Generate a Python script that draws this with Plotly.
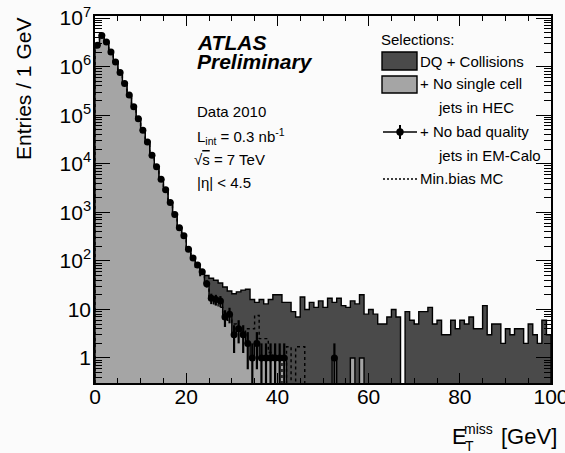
import numpy as np
import plotly.graph_objects as go

# ---------------- data (entries per 1 GeV bin, bins 0..100 GeV) ----------------
bin_edges = list(range(0, 101))

dq_collisions = [2.75e6, 4.4e6, 3.2e6, 2.0e6, 1.25e6, 7.6e5, 4.5e5, 2.6e5, 1.5e5, 8.5e4,
                 4.9e4, 2.8e4, 1.5e4, 8.7e3, 4.8e3, 2.9e3, 1.6e3, 900, 480, 330,
                 173, 115, 82, 62, 50, 44, 40, 35, 29, 24,
                 21, 23, 25, 26, 16, 14, 16, 13, 16, 20,
                 20, 14, 14, 9, 7, 18, 10, 14, 11, 15,
                 11, 17, 14, 17, 12, 11, 15, 13, 20, 8,
                 10, 8, 5, 5, 7, 10, 7, 0, 9, 6,
                 5, 9, 9, 11, 5, 6, 3, 3, 6, 4,
                 6, 5, 7, 4, 4, 12, 3, 5, 5, 2,
                 4, 3, 4, 4, 2, 5, 3, 2, 6, 3]

no_single_cell = [2.75e6, 4.4e6, 3.2e6, 2.0e6, 1.25e6, 7.6e5, 4.5e5, 2.6e5, 1.5e5, 8.5e4,
                  4.9e4, 2.8e4, 1.5e4, 8.7e3, 4.8e3, 2.9e3, 1.6e3, 900, 480, 330,
                  173, 115, 82, 60, 34, 17, 16, 15, 7, 8,
                  3, 4, 3, 2, 1, 2, 1, 1, 1, 1,
                  1, 1, 0, 0, 0, 0, 0, 0, 0, 0,
                  0, 0, 1, 0, 0, 0, 1, 0, 1, 0] + [0] * 40

no_bad_quality = [2.75e6, 4.4e6, 3.2e6, 2.0e6, 1.25e6, 7.6e5, 4.5e5, 2.6e5, 1.5e5, 8.5e4,
                  4.9e4, 2.8e4, 1.5e4, 8.7e3, 4.8e3, 2.9e3, 1.6e3, 900, 480, 330,
                  173, 115, 82, 60, 34, 17, 16, 15, 7, 8,
                  3, 4, 3, 2, 1, 2, 1, 1, 1, 1,
                  1, 1, 0, 0, 0, 0, 0, 0, 0, 0,
                  0, 0, 1, 0, 0, 0, 0, 0, 0, 0] + [0] * 40

minbias_mc = [2.6e6, 4.3e6, 3.3e6, 2.0e6, 1.25e6, 7.5e5, 4.5e5, 2.6e5, 1.5e5, 8.5e4,
              4.8e4, 2.7e4, 1.5e4, 8.5e3, 4.7e3, 2.8e3, 1.6e3, 880, 490, 320,
              170, 110, 75, 50, 30, 18, 13, 11, 8, 6,
              5, 4, 3, 4, 4, 7.5, 2.5, 2.5, 1.3, 1.0,
              1.0, 0, 1.7, 0, 1.7, 1.7, 0, 0, 0, 0] + [0] * 50

y_tickvals = [1, 10, 1e2, 1e3, 1e4, 1e5, 1e6, 1e7]
y_ticktext = ["1", "10", "10<sup>2</sup>", "10<sup>3</sup>", "10<sup>4</sup>",
              "10<sup>5</sup>", "10<sup>6</sup>", "10<sup>7</sup>"]
x_tickvals = [0, 20, 40, 60, 80, 100]

# ---------------- layout geometry ----------------
W, H = 565, 453
ML, MR, MT, MB = 95, 14, 16, 70
PW, PH = W - ML - MR, H - MT - MB
FLOOR = 1e-2
FONT = "Liberation Sans, Arial, Helvetica, sans-serif"


def px2x(px):
    return (px - ML) / PW


def py2y(py):
    return (H - MB - py) / PH


def step_outline(counts):
    xs, ys = [bin_edges[0]], [FLOOR]
    for i, c in enumerate(counts):
        v = c if c > 0 else FLOOR
        xs += [bin_edges[i], bin_edges[i + 1]]
        ys += [v, v]
    xs.append(bin_edges[-1])
    ys.append(FLOOR)
    return xs, ys


fig = go.Figure()

xd, yd = step_outline(dq_collisions)
fig.add_trace(go.Scatter(x=xd, y=yd, mode="lines", fill="toself", fillcolor="#4a4a4a",
                         line=dict(color="black", width=1.4), hoverinfo="skip"))
xl, yl = step_outline(no_single_cell)
fig.add_trace(go.Scatter(x=xl, y=yl, mode="lines", fill="toself", fillcolor="#a5a5a5",
                         line=dict(color="black", width=1.4), hoverinfo="skip"))
xm, ym = step_outline(minbias_mc)
fig.add_trace(go.Scatter(x=xm, y=ym, mode="lines",
                         line=dict(color="black", width=1.4, dash="3px,3px"), hoverinfo="skip"))

centers = [(bin_edges[i] + bin_edges[i + 1]) / 2 for i in range(len(no_bad_quality))]
px_ = [c for c, n in zip(centers, no_bad_quality) if n > 0]
py_ = [n for n in no_bad_quality if n > 0]
ep = [np.sqrt(n) for n in py_]
em = [min(np.sqrt(n), n - FLOOR) for n in py_]
fig.add_trace(go.Scatter(x=px_, y=py_, mode="markers",
                         marker=dict(color="black", size=7, symbol="circle"),
                         error_y=dict(type="data", array=ep, arrayminus=em, symmetric=False,
                                      color="black", thickness=2.2, width=0),
                         error_x=dict(type="constant", value=0.5, color="black",
                                      thickness=1.5, width=0),
                         hoverinfo="skip"))

# ---------------- annotations ----------------
ann = []


def text(px, py, s, size=15, anchor="left", **kw):
    ann.append(dict(x=px2x(px), y=py2y(py), xref="paper", yref="paper", text=s,
                    showarrow=False, xanchor=anchor, yanchor="middle",
                    font=dict(family=FONT, size=size, color="black"), **kw))


text(195, 43, "<b><i>ATLAS</i></b>", size=21)
text(195, 62, "<b><i>Preliminary</i></b>", size=21)
text(195, 112, "Data 2010")
text(195, 136, "L<sub>int</sub> = 0.3 nb<sup>-1</sup>")
text(192, 159, "√<span style='text-decoration:overline'>s</span> = 7 TeV")
text(195, 182, "|η| &lt; 4.5")

text(379, 39, "Selections:")
text(418, 62, "DQ + Collisions")
text(418, 84, "+ No single cell")
text(436, 107, "jets in HEC")
text(418, 131, "+ No bad quality")
text(436, 155, "jets in EM-Calo")
text(418, 178, "Min.bias MC")

# axis titles
text(23, 89, "Entries / 1 GeV", size=21, anchor="center", textangle=-90)
text(450, 436, "E", size=22)
text(462, 429, "miss", size=14)
text(463, 446, "T", size=14)
text(499, 436, "[GeV]", size=22)

# ---------------- legend glyphs ----------------
shapes = []


def rect(x0, y0, x1, y1, fill):
    shapes.append(dict(type="rect", xref="paper", yref="paper",
                       x0=px2x(x0), x1=px2x(x1), y0=py2y(y0), y1=py2y(y1),
                       fillcolor=fill, line=dict(color="black", width=1.4)))


def seg(x0, y0, x1, y1, width=1.5, dash=None):
    ln = dict(color="black", width=width)
    if dash:
        ln["dash"] = dash
    shapes.append(dict(type="line", xref="paper", yref="paper",
                       x0=px2x(x0), x1=px2x(x1), y0=py2y(y0), y1=py2y(y1), line=ln))


rect(382, 52, 417, 70, "#4a4a4a")
rect(382, 76, 417, 93, "#a5a5a5")
seg(383, 132, 417, 132, width=1.6)
seg(400, 125, 400, 139, width=2)
shapes.append(dict(type="circle", xref="paper", yref="paper", fillcolor="black",
                   x0=px2x(396.3), x1=px2x(403.7), y0=py2y(135.7), y1=py2y(128.3),
                   line=dict(color="black", width=0)))
seg(383, 179, 417, 179, width=1.3, dash="2px,2px")

axis_common = dict(showline=True, linecolor="black", linewidth=1.5, mirror="ticks",
                   ticks="inside", tickcolor="black", tickwidth=1.2, showgrid=False,
                   zeroline=False, automargin=False,
                   tickfont=dict(family=FONT, size=21, color="black"))

fig.update_layout(
    width=W, height=H,
    margin=dict(l=ML, r=MR, t=MT, b=MB, pad=0),
    paper_bgcolor="#fbfbfb", plot_bgcolor="#fbfbfb",
    showlegend=False,
    xaxis=dict(range=[0, 100], tickmode="array", tickvals=x_tickvals, ticklen=10,
               ticklabelstandoff=-6,
               minor=dict(ticks="inside", dtick=5, ticklen=5, tickcolor="black", tickwidth=1.2),
               ticklabeloverflow="allow", **axis_common),
    yaxis=dict(type="log", range=[-0.515, 7.043], tickmode="array", tickvals=y_tickvals,
               ticktext=y_ticktext, ticklen=15, ticklabelstandoff=-2,
               minor=dict(ticks="inside", dtick="D1", ticklen=7, tickcolor="black", tickwidth=1.2),
               **axis_common),
    annotations=ann,
    shapes=shapes,
)

fig.write_html("out.html", config={"displayModeBar": False},
               post_script="document.body.style.margin='0';document.body.style.background='#fbfbfb';")
